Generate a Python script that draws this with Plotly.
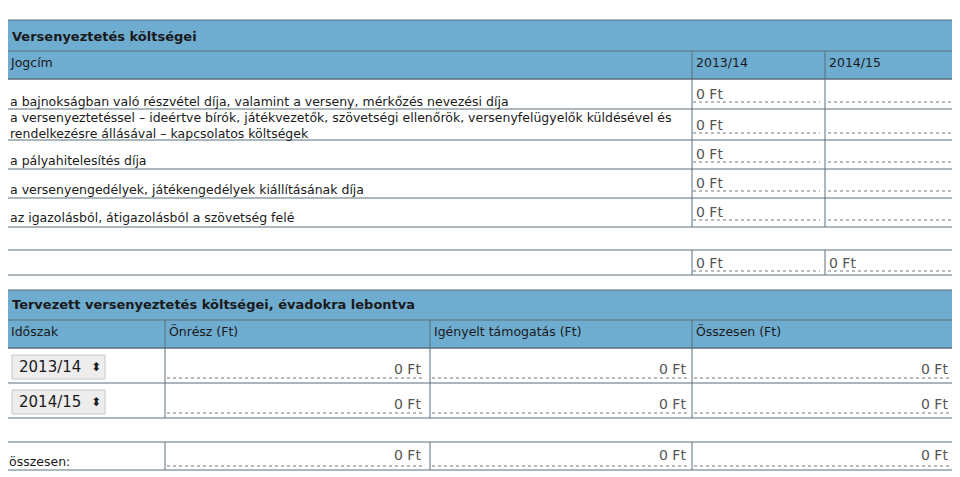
import plotly.graph_objects as go

case_id = "Ügyiratszám : be/SFPHP01-1153/2013"
section1_title = "Versenyeztetés költségei"
col1_headers = ["Jogcím", "2013/14", "2014/15"]
items = [
    "a bajnokságban való részvétel díja, valamint a verseny, mérkőzés nevezési díja",
    "a versenyeztetéssel – ideértve bírók, játékvezetők, szövetségi ellenőrök, versenyfelügyelők küldésével és<br>rendelkezésre állásával – kapcsolatos költségek",
    "a pályahitelesítés díja",
    "a versenyengedélyek, játékengedélyek kiállításának díja",
    "az igazolásból, átigazolásból a szövetség felé",
]
vals_1314 = ["0 Ft", "0 Ft", "0 Ft", "0 Ft", "0 Ft"]
vals_1415 = ["", "", "", "", ""]
sum1 = ["0 Ft", "0 Ft"]

section2_title = "Tervezett versenyeztetés költségei, évadokra lebontva"
col2_headers = ["Időszak", "Önrész (Ft)", "Igényelt támogatás (Ft)", "Összesen (Ft)"]
periods = ["2013/14", "2014/15"]
onresz = ["0 Ft", "0 Ft"]
igenyelt = ["0 Ft", "0 Ft"]
osszesen = ["0 Ft", "0 Ft"]
totals2 = ["0 Ft", "0 Ft", "0 Ft"]

HDR = "#6eacd0"
BRD = "#5b6e7c"
TXT = "#1a1a1a"
VAL = "#555555"
FONT = "DejaVu Sans"

shapes, ann = [], []

def rect(x0, y0, x1, y1, fill="rgba(0,0,0,0)", line=BRD, w=1):
    shapes.append(dict(type="rect", x0=x0, y0=y0, x1=x1, y1=y1, fillcolor=fill,
                       line=dict(color=line, width=w), layer="below"))

def hline(x0, x1, y, color=BRD, dash="solid", w=1):
    shapes.append(dict(type="line", x0=x0, x1=x1, y0=y, y1=y, line=dict(color=color, width=w, dash=dash)))

def vline(x, y0, y1, color=BRD):
    shapes.append(dict(type="line", x0=x, x1=x, y0=y0, y1=y1, line=dict(color=color, width=1)))

def text(x, y, s, size=13, color=TXT, anchor="left", bold=False):
    if bold:
        s = "<b>" + s + "</b>"
    ann.append(dict(x=x, y=y, text=s, showarrow=False, xanchor=anchor, yanchor="middle",
                    font=dict(family=FONT, size=size, color=color), align="left", xshift=-2 if anchor == "left" else 0))

def dotted(x0, x1, y):
    hline(x0, x1, y, color="#777", dash="dot", w=1)

text(6, 6, case_id, size=13)

# ---- Panel 1
rect(7, 20, 958, 79, fill=HDR)
hline(7, 958, 51)
text(12, 36, section1_title, size=13, bold=True)
text(10, 62, col1_headers[0], size=12.5)
text(696, 62, col1_headers[1], size=12.5)
text(829, 62, col1_headers[2], size=12.5)
vline(692, 51, 79); vline(825, 51, 79)
rect(7, 79, 958, 275)
row_bounds = [(79, 109), (109, 140), (140, 169), (169, 198), (198, 227)]
text_y = [101, 125, 160, 189, 217]
for i, (y0, y1) in enumerate(row_bounds):
    hline(7, 958, y1)
    vline(692, y0, y1); vline(825, y0, y1)
    text(10, text_y[i], items[i], size=12.5)
    vy = y1 - 15
    text(696, vy, vals_1314[i], size=14, color=VAL)
    text(829, vy, vals_1415[i], size=14, color=VAL)
    dotted(693, 820, y1 - 7); dotted(828, 955, y1 - 7)
text(7, 243, "Összegzés:", size=12.5)
hline(7, 958, 250)
vline(692, 250, 275); vline(825, 250, 275)
text(696, 263, sum1[0], size=14, color=VAL)
text(829, 263, sum1[1], size=14, color=VAL)
dotted(693, 820, 271); dotted(828, 955, 271)

# ---- Panel 2
rect(7, 290, 958, 348, fill=HDR)
hline(7, 958, 320)
text(12, 304, section2_title, size=13, bold=True)
cx = [7, 165, 430, 692]
for i, h in enumerate(col2_headers):
    text(cx[i] + 4, 331, h, size=12.5)
for x in cx[1:]:
    vline(x, 320, 348)
rect(7, 348, 958, 470)
rb = [(348, 383), (383, 418)]
for i, (y0, y1) in enumerate(rb):
    hline(7, 958, y1)
    for x in cx[1:]:
        vline(x, y0, y1)
    shapes.append(dict(type="rect", x0=12, x1=105, y0=y0 + 7, y1=y1 - 4, fillcolor="#ededed",
                       line=dict(color="#c8c8c8", width=1)))
    text(19, (y0 + y1) / 2 + 1.5, periods[i], size=15)
    text(96, (y0 + y1) / 2 + 1.5, "⬍", size=12, anchor="center")
    for j, v in enumerate([onresz[i], igenyelt[i], osszesen[i]]):
        text(cx[j + 1] + 258, y1 - 14, v, size=14, color=VAL, anchor="right")
        dotted(cx[j + 1] + 2, cx[j + 1] + 260, y1 - 5)
text(7, 434, "Összegzés:", size=12.5)
hline(7, 958, 442)
for x in cx[1:]:
    vline(x, 442, 470)
text(9, 461, "összesen:", size=12.5)
for j, v in enumerate(totals2):
    text(cx[j + 1] + 258, 455, v, size=14, color=VAL, anchor="right")
    dotted(cx[j + 1] + 2, cx[j + 1] + 260, 466)

fig = go.Figure()
fig.update_layout(
    width=952, height=469, margin=dict(l=0, r=0, t=0, b=0),
    paper_bgcolor="white", plot_bgcolor="white",
    xaxis=dict(range=[8, 960], visible=False, fixedrange=True),
    yaxis=dict(range=[477, 8], visible=False, fixedrange=True),
    shapes=shapes, annotations=ann, showlegend=False,
)
fig.write_html("out.html", config={"displayModeBar": False})
